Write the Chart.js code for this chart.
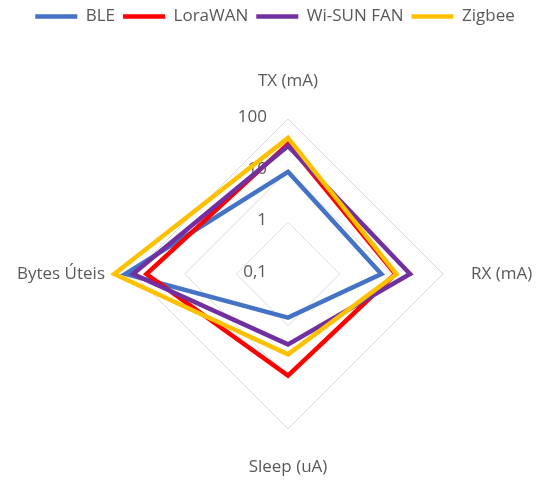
<!DOCTYPE html>
<html>
<head>
<meta charset="utf-8">
<script src="https://cdn.jsdelivr.net/npm/chart.js@4"></script>
<style>
    html, body { margin: 0; padding: 0; background: #fff; }
    #wrap { width: 546px; height: 482px; }
</style>
</head>
<body>
<div id="wrap"><canvas id="radarChart"></canvas></div>
<script>
const axes = ['TX (mA)', 'RX (mA)', 'Sleep (uA)', 'Bytes Úteis'];
const seriesNames = ['BLE', 'LoraWAN', 'Wi-SUN FAN', 'Zigbee'];
const bleValues = [9.5, 6.4, 0.7, 140];
const loraValues = [33, 12, 9.3, 55];
const wisunValues = [30, 23, 2.3, 100];
const zigbeeValues = [43, 12.6, 3.6, 230];
const tickValues = [0.1, 1, 10, 100];
const tickLabels = ['0,1', '1', '10', '100'];

const colors = ['#4472C4', '#FF0000', '#7030A0', '#FFC000'];
const allValues = [bleValues, loraValues, wisunValues, zigbeeValues];
const textColor = '#595959';
const fontFamily = '"Open Sans", sans-serif';

// radar has no log scale, so the radial scale works in log10 units
const toLog = arr => arr.map(v => Math.log10(v));

const logTicks = {
    id: 'logTicks',
    beforeDatasetsDraw(chart) {
        const r = chart.scales.r;
        const ctx = chart.ctx;
        ctx.save();
        ctx.font = '17px ' + fontFamily;
        ctx.fillStyle = textColor;
        ctx.textAlign = 'right';
        ctx.textBaseline = 'middle';
        tickValues.forEach((v, i) => {
            const d = r.getDistanceFromCenterForValue(Math.log10(v));
            ctx.fillText(tickLabels[i], r.xCenter - 21, r.yCenter - d - 2);
        });
        ctx.restore();
    }
};

// extra room under the legend
const legendGap = {
    id: 'legendGap',
    beforeInit(chart) {
        const fit = chart.legend.fit;
        chart.legend.fit = function () {
            fit.call(this);
            this.height += 32;
        };
    }
};

const ctx = document.getElementById('radarChart').getContext('2d');

new Chart(ctx, {
    type: 'radar',
    data: {
        labels: axes,
        datasets: seriesNames.map((name, i) => ({
            label: name,
            data: toLog(allValues[i]),
            borderColor: colors[i],
            backgroundColor: colors[i],
            borderWidth: 4.5,
            borderJoinStyle: 'miter',
            fill: false,
            pointRadius: 0,
            pointHoverRadius: 0,
            tension: 0,
            order: 4 - i
        }))
    },
    options: {
        responsive: true,
        maintainAspectRatio: false,
        animation: false,
        layout: {
            padding: { top: 0, bottom: 0, left: 4, right: 0 }
        },
        plugins: {
            legend: {
                position: 'top',
                labels: {
                    usePointStyle: true,
                    pointStyle: 'line',
                    pointStyleWidth: 42,
                    padding: 8,
                    color: textColor,
                    font: { family: fontFamily, size: 17 },
                    sort: (a, b) => a.datasetIndex - b.datasetIndex
                }
            },
            tooltip: { enabled: false }
        },
        scales: {
            r: {
                min: -1,
                max: 2,
                ticks: {
                    stepSize: 1,
                    display: false
                },
                grid: {
                    color: '#d9d9d9',
                    lineWidth: 1
                },
                angleLines: { display: false },
                pointLabels: {
                    color: textColor,
                    padding: 28,
                    font: { family: fontFamily, size: 17 }
                }
            }
        }
    },
    plugins: [logTicks, legendGap]
});
</script>
</body>
</html>
